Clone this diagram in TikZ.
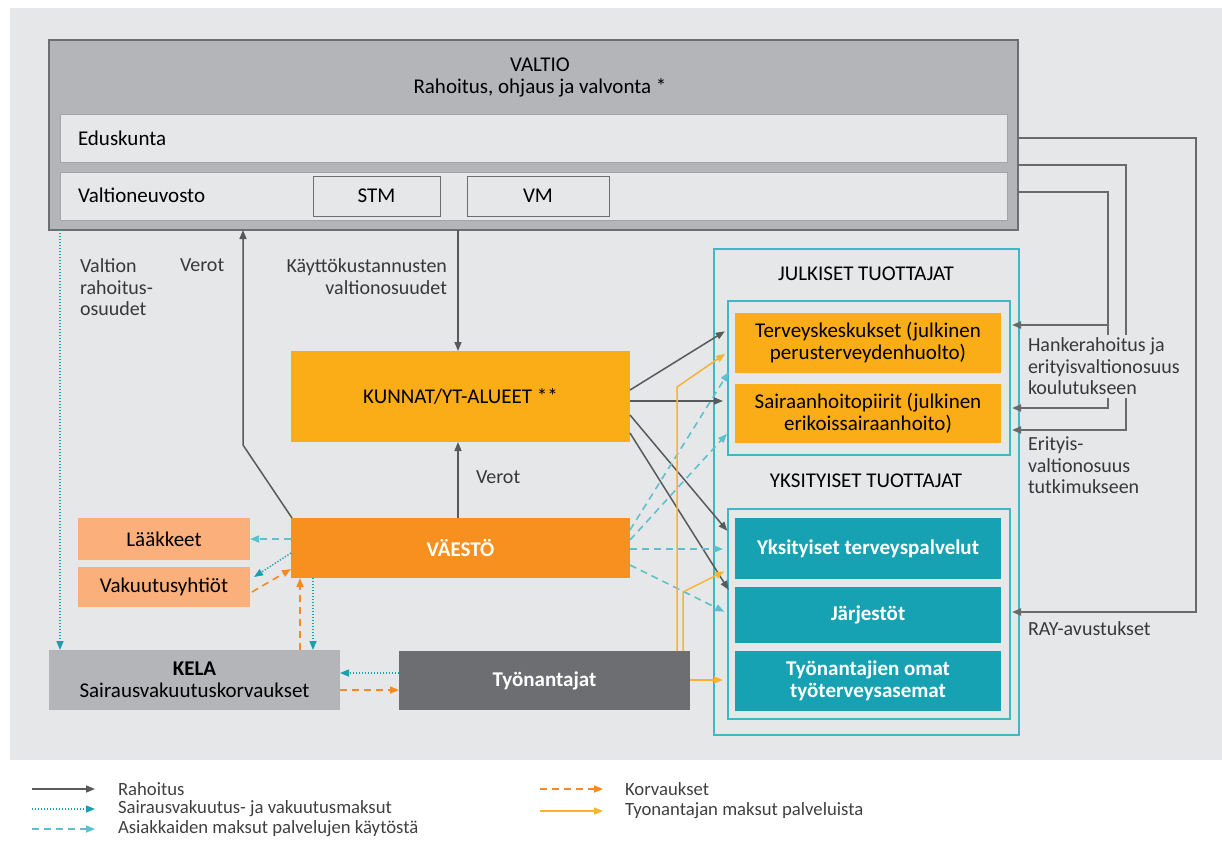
\documentclass[tikz,border=0pt]{standalone}
\usepackage{fontspec}
\setmainfont{Carlito}
\usetikzlibrary{arrows.meta}
\definecolor{bgc}{HTML}{E6E7E8}
\definecolor{valtioc}{HTML}{B4B5B8}
\definecolor{framec}{HTML}{6D6E71}
\definecolor{rowframe}{HTML}{A2A4A7}
\definecolor{kunc}{HTML}{FBAD18}
\definecolor{vaec}{HTML}{F7901E}
\definecolor{lightor}{HTML}{FBAF7A}
\definecolor{kelac}{HTML}{B3B5B8}
\definecolor{tyoc}{HTML}{6D6E71}
\definecolor{tealc}{HTML}{16A2B3}
\definecolor{tealframe}{HTML}{3DB8C6}
\definecolor{arrc}{HTML}{58595B}
\definecolor{ltealc}{HTML}{5EC0CE}
\definecolor{dtealc}{HTML}{1A9FAF}
\definecolor{orc}{HTML}{F58A22}
\definecolor{yelc}{HTML}{F9B233}
\begin{document}
\begin{tikzpicture}[x=1pt,y=-1pt,
  every node/.style={font=\fontsize{21}{22}\selectfont, inner sep=0pt, outer sep=0pt},
  boxn/.style n args={3}{fill=#1, minimum width=#2, minimum height=#3, align=center},
  wtext/.style={text=white, font=\fontsize{21}{22}\selectfont\bfseries},
  lbl/.style={align=left, font=\fontsize{20}{21.5}\selectfont, text=black!78},
  tip/.style={-{Triangle[length=9pt,width=7pt]}},
  rah/.style={draw=arrc, line width=1.5pt, tip},
  rahr/.style={draw=arrc!90, line width=2pt, tip, shorten >=11pt},
  asi/.style={draw=ltealc, line width=1.6pt, dash pattern=on 7pt off 5pt, tip},
  svm/.style={draw=dtealc, line width=1.4pt, dash pattern=on 1.3pt off 1.7pt, tip},
  kor/.style={draw=orc, line width=1.6pt, dash pattern=on 7pt off 5pt, tip},
  yel/.style={draw=yelc, line width=1.5pt, tip},
  leg/.style={font=\fontsize{18.7}{20}\selectfont, text=black!75, anchor=west}
]
\useasboundingbox (0,0) rectangle (1222,852);
\fill[white] (0,0) rectangle (1222,852);
\fill[bgc] (10,8) rectangle (1222,760);

% VALTIO
\node[fill=valtioc, draw=framec, line width=1.3pt, minimum width=969pt, minimum height=190pt] (valtio) at (533.5,135) {};
\node[align=center] (valtiot) at (540,77) {VALTIO\\Rahoitus, ohjaus ja valvonta *};
\node[fill=bgc, draw=rowframe, line width=1pt, minimum width=947pt, minimum height=48pt] (edus) at (533.5,138) {};
\node[anchor=west] (edust) at (78,138) {Eduskunta};
\node[fill=bgc, draw=rowframe, line width=1pt, minimum width=947pt, minimum height=48pt] (vn) at (533.5,196) {};
\node[anchor=west] (vnt) at (78,195) {Valtioneuvosto};
\node[fill=bgc, draw=framec, line width=1pt, minimum width=127pt, minimum height=40pt] (stm) at (376.5,196) {STM};
\node[fill=bgc, draw=framec, line width=1pt, minimum width=142pt, minimum height=40pt] (vm) at (538,196) {VM};

% central boxes
\node[boxn={kunc}{339pt}{91pt}] (kunnat) at (460.5,396.5) {KUNNAT/YT-ALUEET **};
\node[boxn={vaec}{339pt}{60pt}, wtext] (vaesto) at (460.5,548) {VÄESTÖ};
\node[boxn={lightor}{172pt}{42pt}] (laak) at (164,539) {Lääkkeet};
\node[boxn={lightor}{172pt}{40pt}] (vak) at (164,587) {Vakuutusyhtiöt};
\node[boxn={kelac}{291pt}{60pt}] (kela) at (194.5,680) {\textbf{KELA}\\Sairausvakuutuskorvaukset};
\node[boxn={tyoc}{291pt}{59pt}, wtext] (tyon) at (544.5,680.5) {Työnantajat};

% providers
\node[draw=tealframe, line width=1.3pt, minimum width=305pt, minimum height=486pt] (prov) at (866.5,492) {};
\node (jult) at (866,274) {JULKISET TUOTTAJAT};
\node[draw=tealframe, line width=1.3pt, minimum width=282pt, minimum height=154pt] (julin) at (869,378) {};
\node[boxn={kunc}{266pt}{60pt}] (tk) at (868,343) {Terveyskeskukset (julkinen\\perusterveydenhuolto)};
\node[boxn={kunc}{266pt}{59pt}] (sh) at (868,413.5) {Sairaanhoitopiirit (julkinen\\erikoissairaanhoito)};
\node (ykst) at (866,481) {YKSITYISET TUOTTAJAT};
\node[draw=tealframe, line width=1.3pt, minimum width=282pt, minimum height=210pt] (yksin) at (869,614) {};
\node[boxn={tealc}{266pt}{61pt}, wtext] (ykt) at (868,548.5) {Yksityiset terveyspalvelut};
\node[boxn={tealc}{266pt}{56pt}, wtext] (jar) at (868,615) {Järjestöt};
\node[boxn={tealc}{266pt}{60pt}, wtext] (tom) at (868,681) {Työnantajien omat\\työterveysasemat};

% VALTIO connections
\draw[svm] (valtio.south -| 60,0) -- (kela.north -| 60,0);
\draw[rah] ([xshift=1pt]vaesto.north west) -- (243,445) -- (valtio.south -| 243,0);
\draw[rah] (valtio.south -| 458,0) -- (kunnat.north -| 458,0);
\draw[rah] (vaesto.north -| 458,0) -- (kunnat.south -| 458,0);

% around VAESTO
\draw[asi] (vaesto.west |- laak.east) -- (laak.east);
\draw[svm] ([yshift=-5pt]vaesto.west) -- ([xshift=4pt,yshift=10pt]vak.east);
\draw[kor] ([xshift=2pt,yshift=-5pt]vak.east) -- ([yshift=-21pt]vaesto.west);
\draw[kor] (kela.north -| 300,0) -- (vaesto.south -| 300,0);
\draw[svm] (vaesto.south -| 313,0) -- (kela.north -| 313,0);
\draw[svm] (tyon.west |- 0,673) -- (kela.east |- 0,673);
\draw[kor] (kela.east |- 0,690) -- (tyon.west |- 0,690);

% to providers
\draw[rah, shorten >=12pt] (kunnat.east |- 0,390) -- (tk.west |- 0,325);
\draw[rah, shorten >=12pt] (kunnat.east |- 0,401) -- (sh.west |- 0,401);
\draw[rah, shorten >=12pt] (kunnat.east |- 0,415) -- (ykt.west |- 0,540);
\draw[rah, shorten >=12pt] (kunnat.east |- 0,433) -- (jar.west |- 0,600);
\draw[asi, shorten >=12pt] (vaesto.east |- 0,530) -- (tk.west |- 0,362);
\draw[asi, shorten >=12pt] (vaesto.east |- 0,540) -- (sh.west |- 0,425);
\draw[asi, shorten >=12pt] (vaesto.east |- 0,549) -- (ykt.west |- 0,549);
\draw[asi, shorten >=12pt] (vaesto.east |- 0,565) -- (jar.west |- 0,617);
\draw[yel, shorten >=12pt] (tyon.north -| 677,0) -- (677,387) -- (tk.west |- 0,347);
\draw[yel, shorten >=12pt] (tyon.north -| 683,0) -- (683,592) -- (ykt.west |- 0,566);
\draw[yel, shorten >=12pt] (tyon.east |- 0,680) -- (tom.west |- 0,680);

% right side
\coordinate (hb) at (1108,325);
\draw[rahr] (valtio.east |- 0,138) -- (1196,138) |- (jar.east |- 0,612);
\draw[rahr] (valtio.east |- 0,165) -- (1126,165) |- (sh.east |- 0,430);
\draw[rahr] (valtio.east |- 0,192) -- (1108,192) |- (tk.east |- 0,325);
\draw[rahr] (hb) |- (sh.east |- 0,408);

% labels
\node[lbl, anchor=north west] (l1) at (80,259) {Valtion\\rahoitus-\\osuudet};
\node[lbl, anchor=north west] (l2) at (180,259) {Verot};
\node[lbl, anchor=north east, align=right] (l3) at (447,259) {Käyttökustannusten\\valtionosuudet};
\node[lbl, anchor=north west] (l4) at (476,471) {Verot};
\node[lbl, anchor=north west, fill=bgc, inner ysep=3pt] (l5) at (1028,335) {Hankerahoitus ja\\erityisvaltionosuus\\koulutukseen};
\node[lbl, anchor=north west] (l6) at (1028,437) {Erityis-\\valtionosuus\\tutkimukseen};
\node[lbl, anchor=north west] (l7) at (1028,622) {RAY-avustukset};

% legend
\coordinate (a1) at (32,789); \coordinate (b1) at (95,789);
\coordinate (a2) at (32,809); \coordinate (b2) at (95,809);
\coordinate (a3) at (32,829); \coordinate (b3) at (95,829);
\coordinate (a4) at (540,789); \coordinate (b4) at (603,789);
\coordinate (a5) at (540,811); \coordinate (b5) at (603,811);
\draw[rah] (a1) -- (b1);
\draw[svm] (a2) -- (b2);
\draw[asi] (a3) -- (b3);
\draw[kor] (a4) -- (b4);
\draw[yel] (a5) -- (b5);
\node[leg] (t1) at (118,789) {Rahoitus};
\node[leg] (t2) at (118,809) {Sairausvakuutus- ja vakuutusmaksut};
\node[leg] (t3) at (118,829) {Asiakkaiden maksut palvelujen käytöstä};
\node[leg] (t4) at (625,789) {Korvaukset};
\node[leg] (t5) at (625,811) {Tyonantajan maksut palveluista};
\end{tikzpicture}
\end{document}
